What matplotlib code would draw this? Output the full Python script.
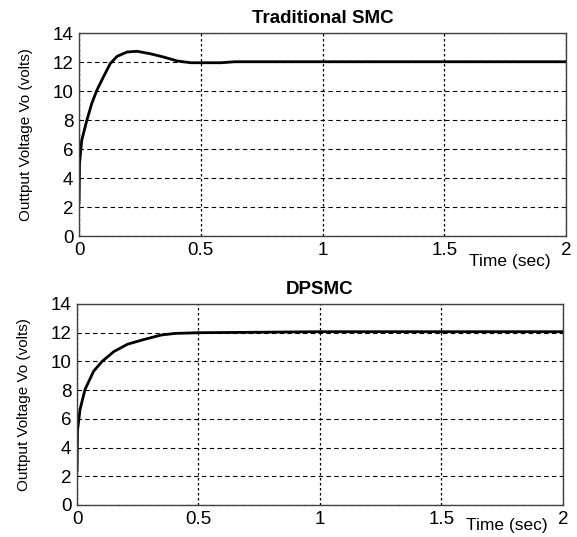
"""
Output voltage response: Traditional SMC vs DPSMC.
"""
import matplotlib
matplotlib.use("Agg")
import matplotlib.pyplot as plt

# Traditional SMC
t_smc = [0.0, 0.002, 0.011, 0.032, 0.052, 0.073, 0.10, 0.128, 0.156, 0.197,
         0.238, 0.293, 0.348, 0.404, 0.459, 0.50, 0.583, 0.64, 0.8, 1.0, 1.5, 2.0]
v_smc = [2.3, 5.0, 6.6, 7.98, 9.13, 10.05, 10.97, 11.89, 12.39, 12.69,
         12.74, 12.57, 12.34, 12.07, 11.95, 11.95, 11.95, 12.02, 12.02, 12.02, 12.02, 12.02]

# DPSMC
t_dp = [0.0, 0.002, 0.0126, 0.033, 0.068, 0.103, 0.152, 0.208, 0.278, 0.347,
        0.403, 0.50, 0.8, 1.0, 1.5, 2.0]
v_dp = [2.4, 5.2, 6.67, 8.05, 9.31, 10.0, 10.69, 11.2, 11.54, 11.84,
        11.95, 12.0, 12.04, 12.07, 12.07, 12.07]

titles = ["Traditional SMC", "DPSMC"]
ylabel = "Outtput Voltage Vo (volts)"
xlabel = "Time (sec)"
yticks = [0, 2, 4, 6, 8, 10, 12, 14]
xticks = [0, 0.5, 1, 1.5, 2]
xticklabels = ["0", "0.5", "1", "1.5", "2"]

plt.rcParams["font.family"] = ["Liberation Sans", "DejaVu Sans"]

fig = plt.figure(figsize=(5.77, 5.37), dpi=100)
ax_top = fig.add_axes([0.137, 0.5605, 0.844, 0.378])
ax_bot = fig.add_axes([0.1335, 0.0596, 0.842, 0.3743])

for ax, t, v, title, xlab_y in [(ax_top, t_smc, v_smc, titles[0], -0.128),
                                (ax_bot, t_dp, v_dp, titles[1], -0.103)]:
    ax.plot(t, v, color="black", lw=2.0)
    ax.set_xlim(0, 2)
    ax.set_ylim(0, 14)
    ax.set_xticks(xticks)
    ax.set_xticklabels(xticklabels)
    ax.set_yticks(yticks)
    ax.tick_params(labelsize=13.5, length=0, pad=4)
    ax.yaxis.grid(True, color="black", linestyle=(0, (4, 3)), lw=0.8)
    ax.xaxis.grid(True, color="black", linestyle=(0, (2, 2)), lw=0.9)
    ax.set_axisbelow(True)
    for s in ax.spines.values():
        s.set_color("#404040")
        s.set_linewidth(1.0)
    ax.set_title(title, fontsize=13.5, fontweight="bold", pad=7)
    ax.set_ylabel(ylabel, fontsize=11, labelpad=14)
    ax.text(0.885, xlab_y, xlabel, transform=ax.transAxes, fontsize=12.5,
            ha="center", va="center")

fig.savefig("out.png", dpi=100)
